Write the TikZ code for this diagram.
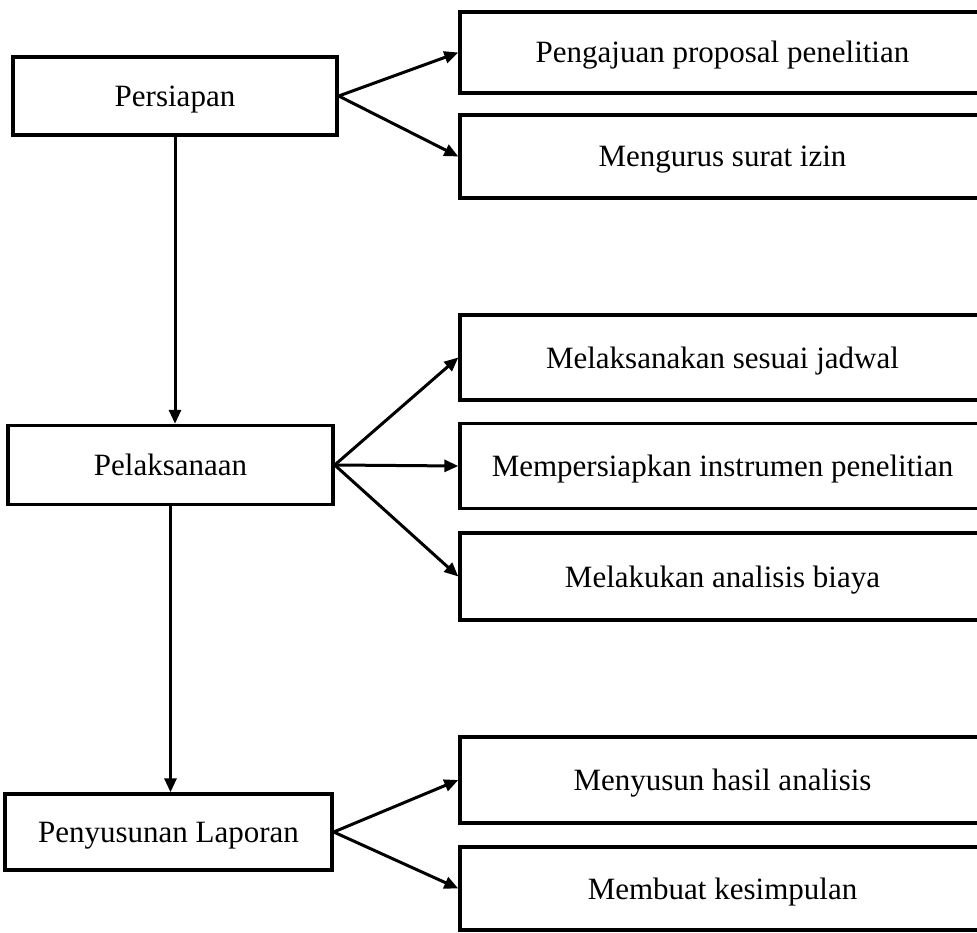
\documentclass[tikz,border=0pt]{standalone}
\usepackage{fontspec}
\setmainfont{Liberation Serif}
\usepackage{tikz}
\usetikzlibrary{shapes,arrows.meta,positioning,calc}

\tikzset{
    stage/.style={draw,line width=3.4pt,minimum height=78pt,align=center,inner sep=0pt,text height=23pt,text depth=2pt},
    task/.style={draw,line width=3.4pt,minimum width=525pt,align=center,inner sep=0pt,text height=23pt,text depth=2pt},
    flow/.style={line width=3pt,-{Triangle[length=14pt,width=12pt]}}
}

\begin{document}
\begin{tikzpicture}[x=1pt,y=-1pt,font=\fontsize{31}{36}\selectfont]
    \useasboundingbox (0,0) rectangle (977,933);

    % Left column: stages
    \node[stage,minimum width=324pt] (persiapan) at (175,96) {Persiapan};
    \node[stage,minimum width=325pt,minimum height=79pt] (pelaksanaan) at (170.5,465) {Pelaksanaan};
    \node[stage,minimum width=327pt,minimum height=76pt] (penyusunan) at (168.5,832) {Penyusunan Laporan};

    % Right column: tasks
    \node[task,minimum height=81pt] (proposal) at (722.5,52.5) {Pengajuan proposal penelitian};
    \node[task,minimum height=83pt] (izin) at (722.5,156.5) {Mengurus surat izin};
    \node[task,minimum height=85pt] (jadwal) at (722.5,357.5) {Melaksanakan sesuai jadwal};
    \node[task,minimum height=85pt] (instrumen) at (722.5,466) {Mempersiapkan instrumen penelitian};
    \node[task,minimum height=87pt] (biaya) at (722.5,576.5) {Melakukan analisis biaya};
    \node[task,minimum height=86pt] (hasil) at (722.5,780) {Menyusun hasil analisis};
    \node[task,minimum height=83pt] (kesimpulan) at (722.5,888.5) {Membuat kesimpulan};

    % Vertical flow
    \draw[flow] (persiapan.south) -- (persiapan.south |- pelaksanaan.north);
    \draw[flow] (pelaksanaan.south) -- (pelaksanaan.south |- penyusunan.north);

    % Branches
    \draw[flow] (persiapan.east) -- (proposal.west);
    \draw[flow] (persiapan.east) -- (izin.west);
    \draw[flow] (pelaksanaan.east) -- (jadwal.west);
    \draw[flow] (pelaksanaan.east) -- (instrumen.west);
    \draw[flow] (pelaksanaan.east) -- (biaya.west);
    \draw[flow] (penyusunan.east) -- (hasil.west);
    \draw[flow] (penyusunan.east) -- (kesimpulan.west);
\end{tikzpicture}
\end{document}
